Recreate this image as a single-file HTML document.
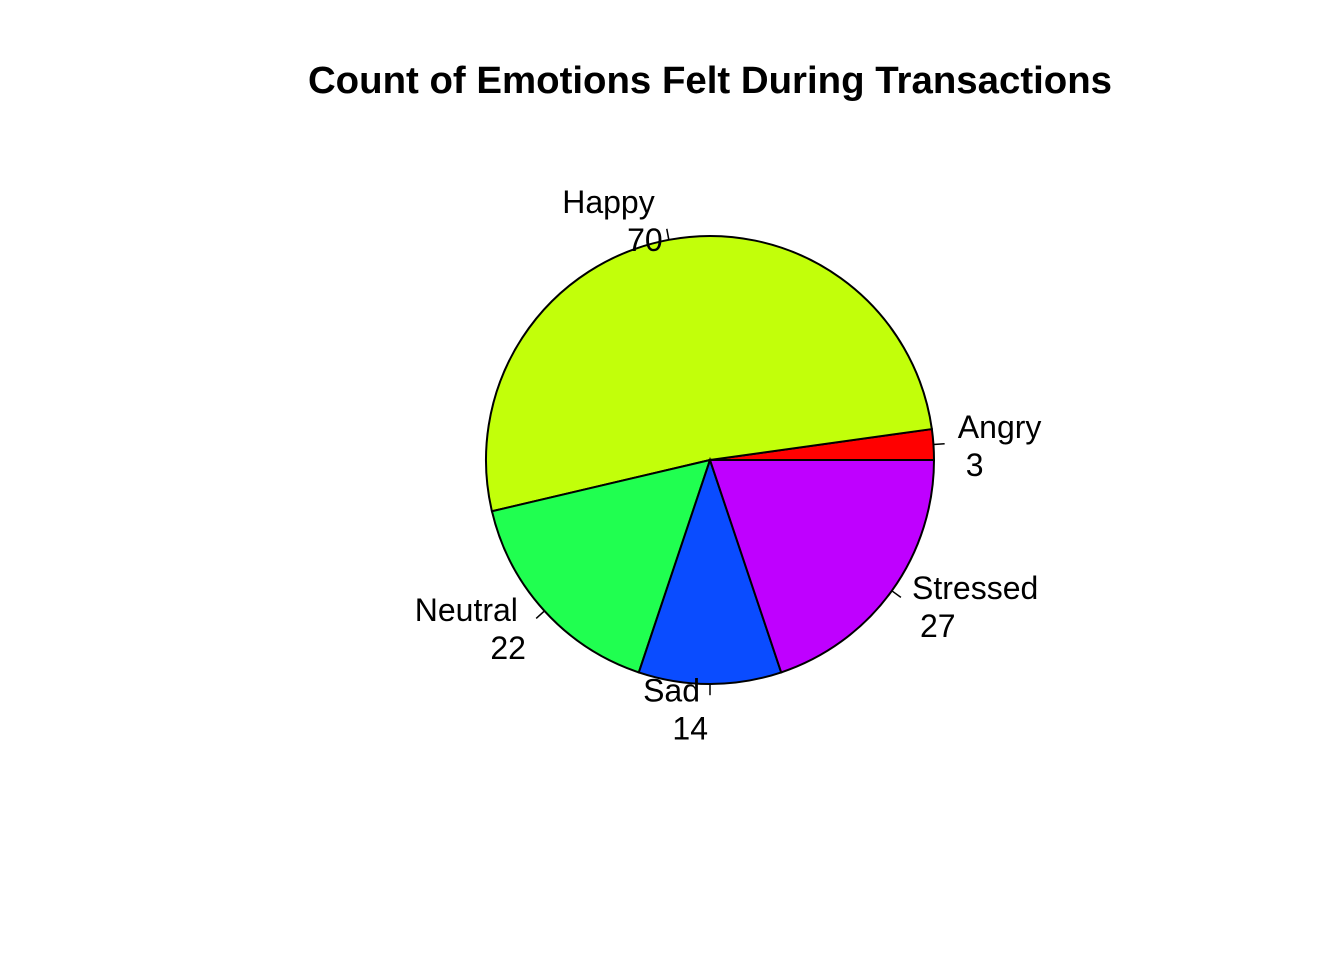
<!DOCTYPE html>
<html><head><meta charset="utf-8"><style>html,body{margin:0;padding:0;background:#fff}svg{display:block}</style></head>
<body>
<svg id="chart" width="1344" height="960" xmlns="http://www.w3.org/2000/svg" font-family="Liberation Sans, Arial, sans-serif">
<rect width="1344" height="960" fill="#fff"/>
<text x="710" y="93" text-anchor="middle" font-size="38.4" font-weight="bold">Count of Emotions Felt During Transactions</text>
<g id="slices"></g>
<g id="labels"></g>
</svg>
<script>
const categories = ["Angry", "Happy", "Neutral", "Sad", "Stressed"];
const counts = [3, 70, 22, 14, 27];
const colors = ["#FF0000", "#C2FF0A", "#20FF50", "#0A4CFF", "#BF00FF"];
const cx = 710, cy = 460, r = 224;
const ns = "http://www.w3.org/2000/svg";
const total = counts.reduce((a, b) => a + b, 0);
const gS = document.getElementById('slices'), gL = document.getElementById('labels');
function pt(a, rr) { return [cx + rr * Math.cos(a), cy - rr * Math.sin(a)]; }
let start = 0;
counts.forEach((v, i) => {
  const sweep = v / total * 2 * Math.PI, end = start + sweep;
  const p0 = pt(start, r), p1 = pt(end, r);
  const path = document.createElementNS(ns, 'path');
  path.setAttribute('d', `M${cx},${cy} L${p0[0]},${p0[1]} A${r},${r} 0 ${sweep > Math.PI ? 1 : 0} 0 ${p1[0]},${p1[1]} Z`);
  path.setAttribute('fill', colors[i]);
  path.setAttribute('stroke', '#000');
  path.setAttribute('stroke-width', '2');
  
  
  gS.appendChild(path);
  const mid = start + sweep / 2;
  const t0 = pt(mid, r), t1 = pt(mid, r * 1.05);
  const ln = document.createElementNS(ns, 'line');
  ln.setAttribute('x1', t0[0]); ln.setAttribute('y1', t0[1]);
  ln.setAttribute('x2', t1[0]); ln.setAttribute('y2', t1[1]);
  ln.setAttribute('stroke', '#000'); ln.setAttribute('stroke-width', '1.5');
  
  
  gL.appendChild(ln);
  const lp = pt(mid, r * 1.1);
  const right = Math.cos(mid) > 0;
  const lines = [categories[i], String(v)];
  lines.forEach((s, k) => {
    const t = document.createElementNS(ns, 'text');
    const dx = right ? (k === 0 ? 2 : 10) : (k === 0 ? -10 : -2);
    t.setAttribute('x', lp[0] + dx);
    t.setAttribute('y', lp[1] + 3 + (k === 0 ? -19 : 19));
    t.setAttribute('dominant-baseline', 'central');
    t.setAttribute('text-anchor', right ? 'start' : 'end');
    t.setAttribute('font-size', '32');
    t.textContent = s;
    
    
    gL.appendChild(t);
  });
  start = end;
});
</script>
</body></html>
